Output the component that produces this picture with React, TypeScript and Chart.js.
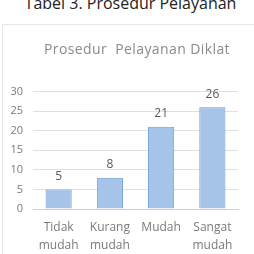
import React, { useEffect, useRef } from "react";
import { Chart, registerables } from "chart.js";

Chart.register(...registerables);

const categories: string[][] = [["Tidak", "mudah"], ["Kurang", "mudah"], ["Mudah"], ["Sangat", "mudah"]];
const values: number[] = [5, 8, 21, 26];
const yTicks: number[] = [0, 5, 10, 15, 20, 25, 30];
const pageTitle = "Tabel 3. Prosedur Pelayanan";
const chartTitle = "Prosedur  Pelayanan Diklat";

const FONT = "'Open Sans', 'Liberation Sans', sans-serif";

const valueLabels = {
  id: "valueLabels",
  afterDatasetsDraw(chart: any) {
    const ctx = chart.ctx;
    const meta = chart.getDatasetMeta(0);
    ctx.save();
    ctx.font = `12px ${FONT}`;
    ctx.fillStyle = "#595959";
    ctx.textAlign = "center";
    ctx.textBaseline = "middle";
    meta.data.forEach((bar: any, i: number) => {
      ctx.fillText(String(values[i]), bar.x, bar.y - 13);
    });
    ctx.restore();
  },
};

const customTitle = {
  id: "customTitle",
  afterDraw(chart: any) {
    const ctx = chart.ctx;
    ctx.save();
    ctx.font = `14px ${FONT}`;
    (ctx as any).letterSpacing = "0.4px";
    ctx.fillStyle = "#8a8a8a";
    ctx.textAlign = "center";
    ctx.textBaseline = "middle";
    ctx.fillText(chartTitle, 134, 25);
    ctx.restore();
  },
};

export default function App() {
  const ref = useRef<HTMLCanvasElement>(null);
  useEffect(() => {
    if (!ref.current) return;
    const chart = new Chart(ref.current, {
      type: "bar",
      data: {
        labels: categories,
        datasets: [
          {
            data: values,
            backgroundColor: "#a6c3e9",
            borderColor: "#6a9ad6",
            borderWidth: 1,
            barPercentage: 0.51,
            categoryPercentage: 1,
          },
        ],
      },
      plugins: [valueLabels, customTitle],
      options: {
        animation: false,
        responsive: false,
        maintainAspectRatio: false,
        layout: { padding: { left: 0, right: 16, top: 0, bottom: 0 } },
        plugins: {
          legend: { display: false },
          tooltip: { enabled: false },
          title: {
            display: true,
            text: chartTitle,
            color: "rgba(0,0,0,0)",
            font: { family: FONT, size: 13, weight: "normal" },
            padding: { top: 17, bottom: 34 },
          },
        },
        scales: {
          x: {
            grid: { display: false, drawTicks: false },
            border: { display: true, color: "#d0d0d0" },
            ticks: {
              color: "#7a7a7a",
              font: { family: FONT, size: 12, lineHeight: 1.45 },
              padding: 10,
              maxRotation: 0,
              autoSkip: false,
            },
            afterFit: (axis: any) => {
              axis.height = 45;
            },
          },
          y: {
            min: 0,
            max: 30,
            afterBuildTicks: (axis: any) => {
              axis.ticks = yTicks.map((v) => ({ value: v }));
            },
            grid: { color: "#e0e0e0", drawTicks: false },
            border: { display: false },
            ticks: {
              color: "#7a7a7a",
              font: { family: FONT, size: 11 },
              padding: 10,
            },
            afterFit: (axis: any) => {
              axis.width = 30;
            },
          },
        },
      },
    });
    return () => chart.destroy();
  }, []);

  return (
    <div style={{ position: "fixed", left: 0, top: 0, width: 254, height: 254, background: "#fff", overflow: "hidden" }}>
      <div
        style={{
          position: "absolute",
          left: 0,
          width: 261,
          top: -8,
          textAlign: "center",
          fontFamily: FONT,
          fontSize: 16,
          color: "#222",
          whiteSpace: "nowrap",
        }}
      >
        {pageTitle}
      </div>
      <div
        style={{
          position: "absolute",
          left: 2,
          top: 24,
          width: 260,
          height: 240,
          border: "1px solid #e6e6e6",
          boxSizing: "border-box",
        }}
      />
      <canvas ref={ref} width={251} height={229} style={{ position: "absolute", left: 3, top: 25, width: 251, height: 229 }} />
    </div>
  );
}
